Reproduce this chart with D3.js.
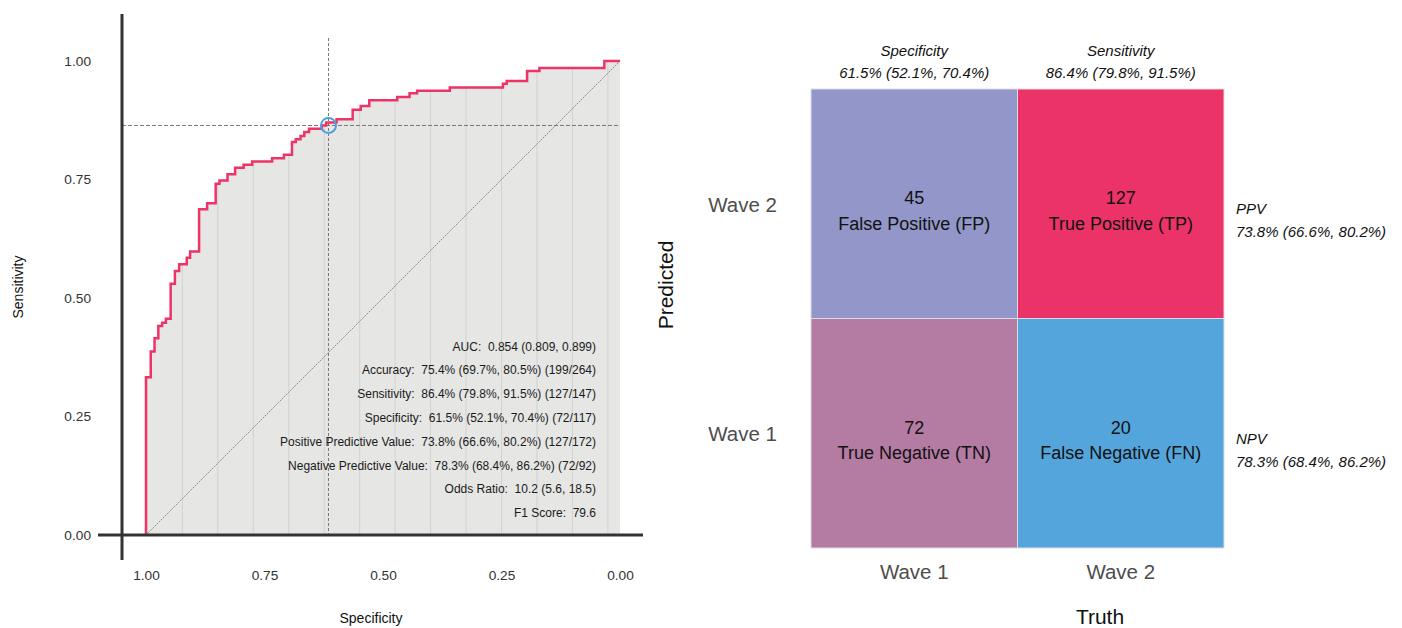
<!DOCTYPE html>
<html>
<head>
<meta charset="utf-8">
<script src="https://cdn.jsdelivr.net/npm/d3@7"></script>
<style>
  body { margin: 0; background: #fff; }
  svg { font-family: "Liberation Sans", Arial, Helvetica, sans-serif; }
</style>
</head>
<body>
<svg id="chart" width="1402" height="628"></svg>
<script>
// ROC curve: specificity where the step happens, sensitivity after the step
var roc_spec = [1.000, 1.000, 0.990, 0.982, 0.974, 0.966, 0.958, 0.948, 0.939, 0.930, 0.914,
                0.907, 0.888, 0.871, 0.853, 0.845, 0.828, 0.812, 0.794, 0.776, 0.734, 0.709,
                0.692, 0.684, 0.674, 0.666, 0.656, 0.629, 0.620, 0.598, 0.564, 0.547, 0.529,
                0.470, 0.444, 0.428, 0.359, 0.247, 0.239, 0.196, 0.170, 0.033, 0.000];
var roc_sens = [0.000, 0.333, 0.387, 0.415, 0.441, 0.448, 0.456, 0.530, 0.557, 0.571, 0.585,
                0.598, 0.687, 0.700, 0.741, 0.748, 0.761, 0.775, 0.781, 0.788, 0.795, 0.802,
                0.829, 0.835, 0.842, 0.850, 0.857, 0.864, 0.870, 0.877, 0.897, 0.905, 0.917,
                0.924, 0.932, 0.937, 0.944, 0.952, 0.958, 0.979, 0.985, 1.000, 1.000];

var best_spec = 0.615;
var best_sens = 0.864;

var roc_ticks = [1.00, 0.75, 0.50, 0.25, 0.00];

var stat_lines = [
  "AUC:  0.854 (0.809, 0.899)",
  "Accuracy:  75.4% (69.7%, 80.5%) (199/264)",
  "Sensitivity:  86.4% (79.8%, 91.5%) (127/147)",
  "Specificity:  61.5% (52.1%, 70.4%) (72/117)",
  "Positive Predictive Value:  73.8% (66.6%, 80.2%) (127/172)",
  "Negative Predictive Value:  78.3% (68.4%, 86.2%) (72/92)",
  "Odds Ratio:  10.2 (5.6, 18.5)",
  "F1 Score:  79.6"
];

// confusion matrix
var truth_levels = ["Wave 1", "Wave 2"];
var pred_levels = ["Wave 2", "Wave 1"];
var cm_pred  = ["Wave 2", "Wave 2", "Wave 1", "Wave 1"];
var cm_truth = ["Wave 1", "Wave 2", "Wave 1", "Wave 2"];
var cm_count = [45, 127, 72, 20];
var cm_label = ["False Positive (FP)", "True Positive (TP)", "True Negative (TN)", "False Negative (FN)"];
var cm_color = ["#9296c8", "#ec3367", "#b47ba3", "#55a5dd"];

var col_header = ["Specificity", "Sensitivity"];
var col_value  = ["61.5% (52.1%, 70.4%)", "86.4% (79.8%, 91.5%)"];
var row_header = ["PPV", "NPV"];
var row_value  = ["73.8% (66.6%, 80.2%)", "78.3% (68.4%, 86.2%)"];

var svg = d3.select('#chart');

// ---------------- ROC panel ----------------
var xScale = d3.scaleLinear().domain([1, 0]).range([146, 620]);
var yScale = d3.scaleLinear().domain([0, 1]).range([535, 61]);

var roc_data = roc_spec.map(function(s, i){ return {spec: s, sens: roc_sens[i]}; });

var area = d3.area()
    .curve(d3.curveStepAfter)
    .x(function(d){ return xScale(d.spec); })
    .y0(yScale(0))
    .y1(function(d){ return yScale(d.sens); });

var line = d3.line()
    .curve(d3.curveStepAfter)
    .x(function(d){ return xScale(d.spec); })
    .y(function(d){ return yScale(d.sens); });

svg.append('clipPath').attr('id', 'roc_clip')
   .append('path').attr('d', area(roc_data));

svg.append('path')
   .attr('d', area(roc_data))
   .attr('fill', '#e6e6e5');

// faint seams inside the filled area
var seams = d3.range(14).map(function(k){ return 0.998 - k * 0.0748; });
svg.append('g').attr('clip-path', 'url(#roc_clip)')
   .selectAll('line').data(seams).enter().append('line')
   .attr('x1', function(d){ return xScale(d); })
   .attr('x2', function(d){ return xScale(d); })
   .attr('y1', yScale(0)).attr('y2', yScale(1))
   .attr('stroke', '#d2d2d2').attr('stroke-width', 1);

// chance diagonal
svg.append('line')
   .attr('x1', xScale(1)).attr('y1', yScale(0))
   .attr('x2', xScale(0)).attr('y2', yScale(1))
   .attr('stroke', '#777').attr('stroke-width', 0.8)
   .attr('stroke-dasharray', '2,1');

// crosshair at chosen threshold
svg.append('line')
   .attr('x1', xScale(best_spec)).attr('x2', xScale(best_spec))
   .attr('y1', 38).attr('y2', yScale(0))
   .attr('stroke', '#777').attr('stroke-width', 1)
   .attr('stroke-dasharray', '3,2');
svg.append('line')
   .attr('x1', 122).attr('x2', xScale(0))
   .attr('y1', yScale(best_sens)).attr('y2', yScale(best_sens))
   .attr('stroke', '#777').attr('stroke-width', 1)
   .attr('stroke-dasharray', '4,2');

svg.append('path')
   .attr('d', line(roc_data))
   .attr('fill', 'none')
   .attr('stroke', '#ee3366')
   .attr('stroke-width', 2.5);

svg.append('circle')
   .attr('cx', xScale(best_spec)).attr('cy', yScale(best_sens))
   .attr('r', 7.5)
   .attr('fill', 'none')
   .attr('stroke', '#4a9fdc')
   .attr('stroke-width', 2);

// stats text
svg.append('g').selectAll('text').data(stat_lines).enter().append('text')
   .attr('x', 596)
   .attr('y', function(d, i){ return 350.5 + i * 23.8; })
   .attr('text-anchor', 'end')
   .attr('font-size', 12)
   .attr('fill', '#1a1a1a')
   .style('white-space', 'pre')
   .text(function(d){ return d; });

// axes
var yAxis = d3.axisLeft(yScale).tickValues(roc_ticks).tickSize(0).tickPadding(31)
    .tickFormat(d3.format('.2f'));
var xAxis = d3.axisBottom(xScale).tickValues(roc_ticks).tickSize(0).tickPadding(35)
    .tickFormat(d3.format('.2f'));

var gy = svg.append('g').attr('transform', 'translate(122,0)').call(yAxis);
var gx = svg.append('g').attr('transform', 'translate(0,535)').call(xAxis);
[gy, gx].forEach(function(g){
  g.select('.domain').remove();
  g.selectAll('text').attr('font-size', 13.7).attr('fill', '#333')
   .attr('font-family', '"Liberation Sans", Arial, sans-serif');
});

svg.append('line')
   .attr('x1', 98).attr('x2', 643).attr('y1', 535).attr('y2', 535)
   .attr('stroke', '#333').attr('stroke-width', 3);
svg.append('line')
   .attr('x1', 122).attr('x2', 122).attr('y1', 14).attr('y2', 560)
   .attr('stroke', '#333').attr('stroke-width', 3);

svg.append('text')
   .attr('transform', 'translate(23,287) rotate(-90)')
   .attr('text-anchor', 'middle')
   .attr('font-size', 14).attr('fill', '#111')
   .text('Sensitivity');
svg.append('text')
   .attr('x', 371).attr('y', 623)
   .attr('text-anchor', 'middle')
   .attr('font-size', 14).attr('fill', '#111')
   .text('Specificity');

// ---------------- confusion matrix panel ----------------
var colScale = d3.scaleBand().domain(truth_levels).range([811, 1224]);
var rowScale = d3.scaleBand().domain(pred_levels).range([89, 548]);

var cells = cm_count.map(function(n, i){
  return {pred: cm_pred[i], truth: cm_truth[i], n: n, label: cm_label[i], color: cm_color[i]};
});

svg.append('g').selectAll('rect').data(cells).enter().append('rect')
   .attr('x', function(d){ return colScale(d.truth); })
   .attr('y', function(d){ return rowScale(d.pred); })
   .attr('width', colScale.bandwidth())
   .attr('height', rowScale.bandwidth())
   .attr('fill', function(d){ return d.color; })
   .attr('stroke', '#dcdce6')
   .attr('stroke-width', 1);

var cellText = svg.append('g').selectAll('g').data(cells).enter().append('g')
   .attr('transform', function(d){
     return 'translate(' + (colScale(d.truth) + colScale.bandwidth() / 2) + ',' +
            (rowScale(d.pred) + rowScale.bandwidth() / 2) + ')';
   });
cellText.append('text')
   .attr('y', 0.5).attr('text-anchor', 'middle')
   .attr('font-size', 18).attr('fill', '#111')
   .text(function(d){ return d.n; });
cellText.append('text')
   .attr('y', 26).attr('text-anchor', 'middle')
   .attr('font-size', 18).attr('fill', '#111')
   .text(function(d){ return d.label; });

// row / column category labels
svg.append('g').selectAll('text').data(pred_levels).enter().append('text')
   .attr('x', 777)
   .attr('y', function(d){ return rowScale(d) + rowScale.bandwidth() / 2 + 8; })
   .attr('text-anchor', 'end')
   .attr('font-size', 20.5).attr('fill', '#4d4d4d')
   .text(function(d){ return d; });
svg.append('g').selectAll('text').data(truth_levels).enter().append('text')
   .attr('x', function(d){ return colScale(d) + colScale.bandwidth() / 2; })
   .attr('y', 578.5)
   .attr('text-anchor', 'middle')
   .attr('font-size', 20.5).attr('fill', '#4d4d4d')
   .text(function(d){ return d; });

svg.append('text')
   .attr('transform', 'translate(673,285) rotate(-90)')
   .attr('text-anchor', 'middle')
   .attr('font-size', 21).attr('fill', '#111')
   .text('Predicted');
svg.append('text')
   .attr('x', 1100).attr('y', 624)
   .attr('text-anchor', 'middle')
   .attr('font-size', 21).attr('fill', '#111')
   .text('Truth');

// column headers (italic)
var ch = svg.append('g').selectAll('g').data(truth_levels).enter().append('g');
ch.append('text')
   .attr('x', function(d){ return colScale(d) + colScale.bandwidth() / 2; })
   .attr('y', 55.5).attr('text-anchor', 'middle')
   .attr('font-size', 15).attr('font-style', 'italic').attr('fill', '#111')
   .text(function(d, i){ return col_header[i]; });
ch.append('text')
   .attr('x', function(d){ return colScale(d) + colScale.bandwidth() / 2; })
   .attr('y', 78).attr('text-anchor', 'middle')
   .attr('font-size', 15).attr('font-style', 'italic').attr('fill', '#111')
   .text(function(d, i){ return col_value[i]; });

// row headers on the right (italic)
var rh = svg.append('g').selectAll('g').data(["Wave 2", "Wave 1"]).enter().append('g');
rh.append('text')
   .attr('x', 1236)
   .attr('y', function(d){ return rowScale(d) + rowScale.bandwidth() / 2 + 10.5; })
   .attr('font-size', 15).attr('font-style', 'italic').attr('fill', '#111')
   .text(function(d, i){ return row_header[i]; });
rh.append('text')
   .attr('x', 1236)
   .attr('y', function(d){ return rowScale(d) + rowScale.bandwidth() / 2 + 33.5; })
   .attr('font-size', 15).attr('font-style', 'italic').attr('fill', '#111')
   .text(function(d, i){ return row_value[i]; });
</script>
</body>
</html>
